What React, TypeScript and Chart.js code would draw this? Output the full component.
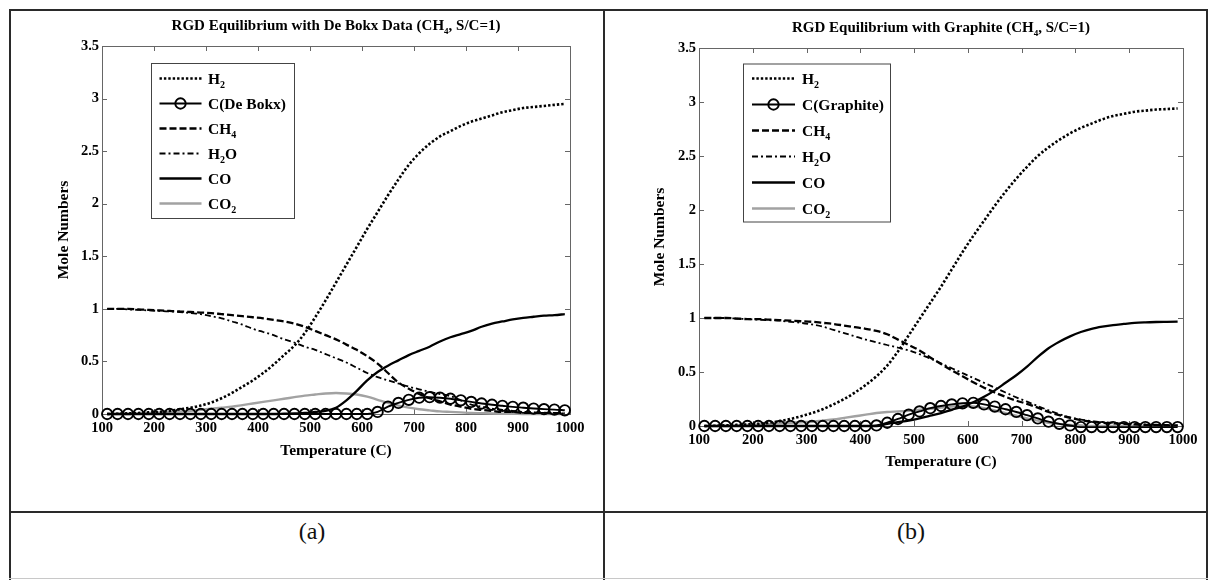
import React, { useEffect, useRef } from 'react';
import { Chart, registerables } from 'chart.js';

Chart.register(...registerables);

const FONT = '"Liberation Serif", "Times New Roman", serif';

// Temperatures (C) of the computed equilibrium points
const TEMPS = [110, 130, 150, 170, 190, 210, 230, 250, 270, 290, 310, 330, 350, 370, 390, 410, 430, 450, 470, 490, 510, 530, 550, 570, 590, 610, 630, 650, 670, 690, 710, 730, 750, 770, 790, 810, 830, 850, 870, 890, 910, 930, 950, 970, 990];

const X_TICKS = [100, 200, 300, 400, 500, 600, 700, 800, 900, 1000];
const Y_TICKS = [0, 0.5, 1, 1.5, 2, 2.5, 3, 3.5];

// ---- Panel (a): De Bokx carbon data
const TITLE_A = 'RGD Equilibrium with De Bokx Data (CH_4, S/C=1)';
const LABELS_A = ['H_2', 'C(De Bokx)', 'CH_4', 'H_2O', 'CO', 'CO_2'];
const A_H2 = [0, 0.003, 0.006, 0.01, 0.015, 0.02, 0.03, 0.045, 0.06, 0.08, 0.11, 0.15, 0.2, 0.26, 0.32, 0.39, 0.47, 0.56, 0.65, 0.77, 0.92, 1.08, 1.25, 1.42, 1.59, 1.76, 1.92, 2.08, 2.23, 2.37, 2.48, 2.57, 2.64, 2.69, 2.74, 2.78, 2.81, 2.84, 2.87, 2.89, 2.91, 2.92, 2.93, 2.94, 2.95];
const A_C = [0, 0, 0, 0, 0, 0, 0, 0, 0, 0, 0, 0, 0, 0, 0, 0, 0, 0, 0, 0, 0, 0, 0, 0, 0, 0, 0.02, 0.07, 0.105, 0.135, 0.155, 0.16, 0.155, 0.145, 0.13, 0.115, 0.1, 0.088, 0.078, 0.068, 0.06, 0.052, 0.046, 0.042, 0.035];
const A_CH4 = [1, 1, 1, 0.995, 0.99, 0.985, 0.98, 0.975, 0.97, 0.965, 0.96, 0.95, 0.94, 0.93, 0.92, 0.91, 0.895, 0.88, 0.86, 0.83, 0.79, 0.75, 0.71, 0.66, 0.61, 0.55, 0.48, 0.39, 0.3, 0.24, 0.19, 0.15, 0.12, 0.09, 0.07, 0.05, 0.04, 0.03, 0.02, 0.02, 0.01, 0.01, 0.01, 0.005, 0.005];
const A_H2O = [1, 1, 0.995, 0.99, 0.985, 0.98, 0.975, 0.97, 0.96, 0.95, 0.93, 0.91, 0.88, 0.85, 0.81, 0.78, 0.75, 0.71, 0.68, 0.64, 0.61, 0.57, 0.53, 0.49, 0.44, 0.39, 0.35, 0.32, 0.29, 0.26, 0.235, 0.21, 0.19, 0.17, 0.13, 0.09, 0.07, 0.05, 0.04, 0.03, 0.02, 0.015, 0.01, 0.01, 0.005];
const A_CO = [0, 0, 0, 0, 0, 0, 0, 0, 0, 0, 0, 0, 0, 0, 0, 0, 0, 0.003, 0.006, 0.01, 0.02, 0.03, 0.06, 0.13, 0.22, 0.32, 0.4, 0.46, 0.51, 0.56, 0.6, 0.64, 0.69, 0.73, 0.76, 0.79, 0.83, 0.86, 0.88, 0.9, 0.915, 0.925, 0.935, 0.94, 0.95];
const A_CO2 = [0, 0, 0, 0.005, 0.01, 0.015, 0.02, 0.025, 0.03, 0.04, 0.05, 0.06, 0.07, 0.085, 0.1, 0.115, 0.13, 0.145, 0.16, 0.175, 0.185, 0.195, 0.2, 0.195, 0.185, 0.165, 0.135, 0.105, 0.08, 0.06, 0.045, 0.035, 0.025, 0.02, 0.015, 0.01, 0.008, 0.005, 0.003, 0.002, 0, 0, 0, 0, 0];

// ---- Panel (b): graphite
const TITLE_B = 'RGD Equilibrium with Graphite (CH_4, S/C=1)';
const LABELS_B = ['H_2', 'C(Graphite)', 'CH_4', 'H_2O', 'CO', 'CO_2'];
const B_H2 = [0, 0.003, 0.006, 0.01, 0.015, 0.02, 0.03, 0.045, 0.065, 0.09, 0.12, 0.155, 0.2, 0.25, 0.31, 0.38, 0.46, 0.56, 0.69, 0.84, 0.99, 1.14, 1.29, 1.45, 1.61, 1.76, 1.9, 2.04, 2.17, 2.29, 2.4, 2.5, 2.58, 2.65, 2.71, 2.76, 2.8, 2.84, 2.87, 2.89, 2.91, 2.92, 2.93, 2.935, 2.94];
const B_C = [0, 0, 0, 0, 0, 0, 0, 0, 0, 0, 0, 0, 0, 0, 0, 0, 0.005, 0.03, 0.065, 0.105, 0.135, 0.165, 0.185, 0.2, 0.21, 0.215, 0.2, 0.18, 0.155, 0.13, 0.1, 0.07, 0.04, 0.02, 0.005, -0.01, -0.01, -0.01, -0.01, -0.01, -0.01, -0.01, -0.01, -0.01, -0.01];
const B_CH4 = [1, 1, 1, 0.995, 0.99, 0.99, 0.985, 0.98, 0.975, 0.97, 0.965, 0.955, 0.945, 0.93, 0.915, 0.9, 0.88, 0.85, 0.8, 0.75, 0.7, 0.635, 0.575, 0.515, 0.46, 0.405, 0.355, 0.31, 0.27, 0.235, 0.205, 0.17, 0.13, 0.1, 0.075, 0.055, 0.04, 0.03, 0.025, 0.02, 0.015, 0.01, 0.01, 0.005, 0.005];
const B_H2O = [1, 1, 1, 0.995, 0.99, 0.985, 0.98, 0.975, 0.965, 0.955, 0.94, 0.92, 0.89, 0.86, 0.83, 0.8, 0.775, 0.75, 0.725, 0.7, 0.665, 0.625, 0.58, 0.535, 0.49, 0.445, 0.4, 0.355, 0.31, 0.265, 0.225, 0.185, 0.145, 0.11, 0.08, 0.06, 0.045, 0.035, 0.03, 0.025, 0.02, 0.015, 0.01, 0.01, 0.005];
const B_CO = [0, 0, 0, 0, 0, 0, 0, 0, 0, 0, 0, 0, 0, 0, 0, 0, 0, 0.02, 0.035, 0.05, 0.07, 0.095, 0.12, 0.15, 0.18, 0.22, 0.27, 0.33, 0.4, 0.47, 0.55, 0.64, 0.72, 0.78, 0.83, 0.87, 0.9, 0.92, 0.935, 0.945, 0.955, 0.96, 0.963, 0.965, 0.967];
const B_CO2 = [0, 0, 0, 0.005, 0.01, 0.015, 0.02, 0.025, 0.03, 0.035, 0.04, 0.05, 0.06, 0.075, 0.09, 0.105, 0.12, 0.13, 0.135, 0.14, 0.15, 0.16, 0.17, 0.18, 0.185, 0.18, 0.165, 0.145, 0.12, 0.095, 0.07, 0.05, 0.03, 0.02, 0.01, 0.005, 0, 0, 0, 0, 0, 0, 0, 0, 0];

type Style = { color: string; width: number; dash: number[]; marker: boolean };
const STYLES: Style[] = [
  { color: '#000', width: 2.6, dash: [2.4, 2], marker: false },
  { color: '#000', width: 1.9, dash: [], marker: true },
  { color: '#000', width: 2.3, dash: [7, 3], marker: false },
  { color: '#000', width: 1.8, dash: [6, 3, 2, 3], marker: false },
  { color: '#000', width: 2.3, dash: [], marker: false },
  { color: '#a2a2a2', width: 2.4, dash: [], marker: false },
];

type Panel = {
  left: number;
  title: string;
  labels: string[];
  series: number[][];
  plot: { left: number; right: number; top: number; bottom: number };
  legend: { dx: number; dy: number; w: number; h: number; first: number; gap: number; l0: number; l1: number; tx: number };
  yTitleDx: number;
  xTitleDy: number;
};

const CW = 605;
const CH = 512;

const PANELS: Panel[] = [
  {
    left: 0,
    title: TITLE_A,
    labels: LABELS_A,
    series: [A_H2, A_C, A_CH4, A_H2O, A_CO, A_CO2],
    plot: { left: 102, right: 570, top: 46, bottom: 414 },
    legend: { dx: 49, dy: 17, w: 143, h: 155, first: 15.5, gap: 25, l0: 8.5, l1: 50.5, tx: 57 },
    yTitleDx: -39,
    xTitleDy: 36,
  },
  {
    left: 605,
    title: TITLE_B,
    labels: LABELS_B,
    series: [B_H2, B_C, B_CH4, B_H2O, B_CO, B_CO2],
    plot: { left: 94, right: 578, top: 48, bottom: 426 },
    legend: { dx: 44, dy: 15.5, w: 147, h: 158, first: 15, gap: 26, l0: 9, l1: 52, tx: 59 },
    yTitleDx: -40,
    xTitleDy: 35,
  },
];

function segs(s: string) {
  const out: { t: string; sub: boolean }[] = [];
  let buf = '';
  let i = 0;
  while (i < s.length) {
    if (s[i] === '_' && i + 1 < s.length) {
      if (buf) out.push({ t: buf, sub: false });
      buf = '';
      out.push({ t: s[i + 1], sub: true });
      i += 2;
    } else {
      buf += s[i];
      i += 1;
    }
  }
  if (buf) out.push({ t: buf, sub: false });
  return out;
}

function drawRich(ctx: CanvasRenderingContext2D, s: string, x: number, y: number, size: number, align: 'left' | 'center') {
  const parts = segs(s);
  const main = `bold ${size}px ${FONT}`;
  const sub = `bold ${Math.round(size * 0.62)}px ${FONT}`;
  let w = 0;
  for (const p of parts) {
    ctx.font = p.sub ? sub : main;
    w += ctx.measureText(p.t).width;
  }
  let cx = align === 'center' ? x - w / 2 : x;
  ctx.textAlign = 'left';
  ctx.textBaseline = 'alphabetic';
  ctx.fillStyle = '#000';
  const base = y + size * 0.33;
  for (const p of parts) {
    ctx.font = p.sub ? sub : main;
    ctx.fillText(p.t, cx, p.sub ? base + size * 0.3 : base);
    cx += ctx.measureText(p.t).width;
  }
}

const decor = {
  id: 'decor',
  beforeDatasetsDraw(chart: any) {
    const { ctx, chartArea: a, scales } = chart;
    ctx.save();
    ctx.strokeStyle = '#666';
    ctx.lineWidth = 1;
    ctx.setLineDash([]);
    ctx.strokeRect(a.left + 0.5, a.top + 0.5, a.right - a.left, a.bottom - a.top);
    const tl = 5;
    ctx.beginPath();
    scales.x.ticks.forEach((_t: any, i: number) => {
      const px = Math.round(scales.x.getPixelForTick(i)) + 0.5;
      ctx.moveTo(px, a.bottom);
      ctx.lineTo(px, a.bottom - tl);
      ctx.moveTo(px, a.top);
      ctx.lineTo(px, a.top + tl);
    });
    scales.y.ticks.forEach((_t: any, i: number) => {
      const py = Math.round(scales.y.getPixelForTick(i)) + 0.5;
      ctx.moveTo(a.left, py);
      ctx.lineTo(a.left + tl, py);
      ctx.moveTo(a.right, py);
      ctx.lineTo(a.right - tl, py);
    });
    ctx.stroke();
    ctx.restore();
  },
  afterDraw(chart: any, _args: any, opts: any) {
    const { ctx, chartArea: a } = chart;
    const cxMid = (a.left + a.right) / 2;
    const cyMid = (a.top + a.bottom) / 2;
    ctx.save();
    drawRich(ctx, opts.title, cxMid, a.top - 21, 15, 'center');
    drawRich(ctx, 'Temperature (C)', cxMid, a.bottom + opts.xTitleDy, 15.5, 'center');
    ctx.save();
    ctx.translate(a.left + opts.yTitleDx, cyMid);
    ctx.rotate(-Math.PI / 2);
    drawRich(ctx, 'Mole Numbers', 0, 0, 15.5, 'center');
    ctx.restore();

    const L = opts.legend;
    const bx = a.left + L.dx;
    const by = a.top + L.dy;
    ctx.fillStyle = '#fff';
    ctx.fillRect(bx, by, L.w, L.h);
    ctx.strokeStyle = '#444';
    ctx.lineWidth = 1;
    ctx.setLineDash([]);
    ctx.strokeRect(bx + 0.5, by + 0.5, L.w, L.h);
    chart.data.datasets.forEach((ds: any, i: number) => {
      const y = by + L.first + i * L.gap;
      ctx.save();
      ctx.strokeStyle = ds.borderColor;
      ctx.lineWidth = ds.borderWidth;
      ctx.setLineDash(ds.borderDash || []);
      ctx.beginPath();
      ctx.moveTo(bx + L.l0, y);
      ctx.lineTo(bx + L.l1, y);
      ctx.stroke();
      if (ds.pointRadius > 0) {
        ctx.setLineDash([]);
        ctx.lineWidth = ds.pointBorderWidth;
        ctx.beginPath();
        ctx.arc(bx + (L.l0 + L.l1) / 2, y, ds.pointRadius, 0, Math.PI * 2);
        ctx.stroke();
      }
      ctx.restore();
      drawRich(ctx, ds.label, bx + L.tx, y, 15.5, 'left');
    });
    ctx.restore();
  },
};

function makeConfig(p: Panel): any {
  const datasets = p.series.map((s, i) => {
    const st = STYLES[i];
    return {
      label: p.labels[i],
      data: TEMPS.map((t, j) => ({ x: t, y: s[j] })),
      borderColor: st.color,
      borderWidth: st.width,
      borderDash: st.dash,
      borderCapStyle: 'butt',
      pointRadius: st.marker ? 5.2 : 0,
      pointHoverRadius: 0,
      pointBorderWidth: 1.9,
      pointBorderColor: st.color,
      pointBackgroundColor: 'rgba(0,0,0,0)',
      fill: false,
      cubicInterpolationMode: 'monotone',
      clip: false,
    };
  });
  const tickFont = { family: FONT, size: 14.5, weight: 'bold' as const };
  return {
    type: 'line',
    data: { datasets },
    options: {
      animation: false,
      responsive: false,
      events: [],
      layout: {
        padding: { left: 0, right: CW - p.plot.right, top: p.plot.top, bottom: CH - p.plot.bottom - 40 },
      },
      scales: {
        x: {
          type: 'linear',
          min: X_TICKS[0],
          max: X_TICKS[X_TICKS.length - 1],
          grid: { display: false, drawTicks: false },
          border: { display: false },
          afterFit: (s: any) => {
            s.height = 40;
          },
          afterBuildTicks: (s: any) => {
            s.ticks = X_TICKS.map((v) => ({ value: v }));
          },
          ticks: {
            padding: 6,
            color: '#000',
            font: tickFont,
            maxRotation: 0,
            autoSkip: false,
            callback: (v: number) => String(v),
          },
        },
        y: {
          type: 'linear',
          min: Y_TICKS[0],
          max: Y_TICKS[Y_TICKS.length - 1],
          grid: { display: false, drawTicks: false },
          border: { display: false },
          afterFit: (s: any) => {
            s.width = p.plot.left;
          },
          afterBuildTicks: (s: any) => {
            s.ticks = Y_TICKS.map((v) => ({ value: v }));
          },
          ticks: {
            padding: 3,
            color: '#000',
            font: tickFont,
            autoSkip: false,
            callback: (v: number) => String(v),
          },
        },
      },
      plugins: {
        legend: { display: false },
        tooltip: { enabled: false },
        title: { display: false },
        decor: {
          title: p.title,
          legend: p.legend,
          yTitleDx: p.yTitleDx,
          xTitleDy: p.xTitleDy,
        },
      },
    },
    plugins: [decor],
  };
}

function PanelChart({ panel }: { panel: Panel }) {
  const ref = useRef<HTMLCanvasElement | null>(null);
  useEffect(() => {
    if (!ref.current) return;
    const chart = new Chart(ref.current, makeConfig(panel));
    return () => chart.destroy();
  }, [panel]);
  return (
    <canvas
      ref={ref}
      width={CW}
      height={CH}
      style={{ position: 'absolute', left: panel.left, top: 0, width: CW, height: CH }}
    />
  );
}

const line = (s: React.CSSProperties): React.CSSProperties => ({ position: 'absolute', background: '#2a2a2a', ...s });

export default function App() {
  return (
    <div style={{ position: 'absolute', left: 0, top: 0, width: 1210, height: 582, background: '#fff', overflow: 'hidden' }}>
      {PANELS.map((p, i) => (
        <PanelChart key={i} panel={p} />
      ))}
      <div style={line({ left: 9, top: 9, width: 1199, height: 2 })} />
      <div style={line({ left: 9, top: 9, width: 2, height: 571 })} />
      <div style={line({ left: 603, top: 9, width: 2, height: 571 })} />
      <div style={line({ left: 1206, top: 9, width: 2, height: 571 })} />
      <div style={line({ left: 9, top: 511, width: 1199, height: 2 })} />
      <div style={line({ left: 9, top: 578, width: 1199, height: 1, background: '#c8c8c8' })} />
      <div style={{ position: 'absolute', left: 262, top: 514, width: 100, height: 34, textAlign: 'center', font: `24px ${FONT}`, lineHeight: '34px', color: '#111' }}>(a)</div>
      <div style={{ position: 'absolute', left: 861, top: 514, width: 100, height: 34, textAlign: 'center', font: `24px ${FONT}`, lineHeight: '34px', color: '#111' }}>(b)</div>
    </div>
  );
}
